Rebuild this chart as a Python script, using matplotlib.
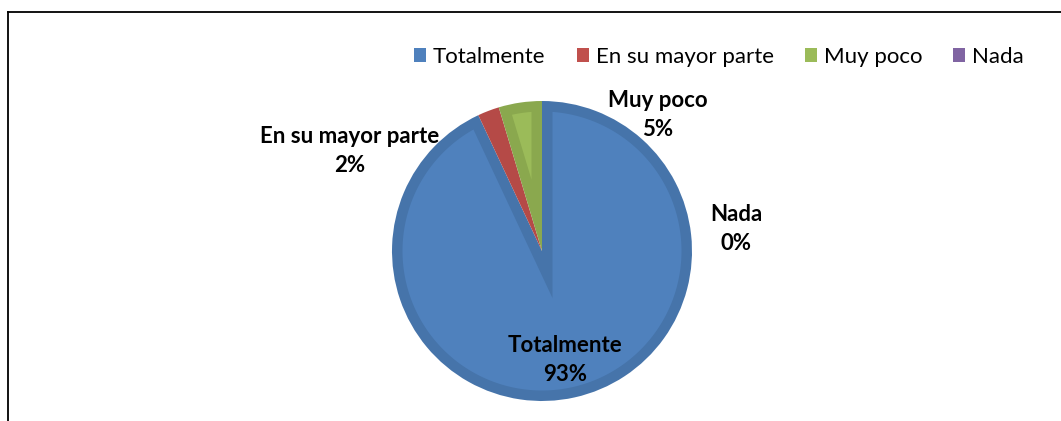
"""Pie chart: Totalmente / En su mayor parte / Muy poco / Nada."""

import matplotlib

matplotlib.use("Agg")
import matplotlib.pyplot as plt
import numpy as np
from matplotlib.lines import Line2D
from matplotlib.patches import Patch, Polygon

categories = ["Totalmente", "En su mayor parte", "Muy poco", "Nada"]
counts = [40, 1, 2, 0]

base_colors = ["#4F81BD", "#C0504D", "#9BBB59", "#8064A2"]
edge_colors = ["#4674AA", "#B54A47", "#8AA84E", "#735A92"]

# label anchor spots (data units, pie radius = 1), placed like Excel's best fit
label_pos = [(0.153, -0.727), (-1.28, 0.667), (0.773, 0.907), (1.293, 0.147)]

FONT = ["Lato", "DejaVu Sans"]
BEVEL = 0.07


def _inset(wedge, d):
    """Lighter inner face of a wedge, offset inward by d."""
    cx, cy = wedge.center
    r = wedge.r - d
    t1, t2 = np.radians(wedge.theta1), np.radians(wedge.theta2)
    half = (t2 - t1) / 2.0
    if half <= 0:
        return None
    dist = d / np.sin(half)
    if dist > 0.85 * r:
        return None
    mid = t1 + half
    vx, vy = cx + dist * np.cos(mid), cy + dist * np.sin(mid)
    s = np.sqrt(r**2 - d**2)
    a1 = t1 + np.arctan2(d, s)
    a2 = t2 - np.arctan2(d, s)
    arc = np.linspace(a1, a2, 300)
    pts = [(vx, vy)] + [(cx + r * np.cos(a), cy + r * np.sin(a)) for a in arc]
    return np.asarray(pts)


W, H = 1061, 421
fig = plt.figure(figsize=(W / 100, H / 100), dpi=100)
ax = fig.add_axes([392 / W, 20 / H, 300 / W, 300 / H])

wedges, _ = ax.pie(
    counts,
    colors=edge_colors,
    startangle=90,
    counterclock=False,
    radius=1.0,
    wedgeprops={"linewidth": 0},
)
for wedge, color in zip(wedges, base_colors):
    pts = _inset(wedge, BEVEL)
    if pts is not None:
        ax.add_patch(Polygon(pts, closed=True, facecolor=color, edgecolor="none"))

ax.set_xlim(-1, 1)
ax.set_ylim(-1, 1)
ax.set_aspect("equal")
ax.axis("off")

total = sum(counts)
for name, value, (x, y) in zip(categories, counts, label_pos):
    ax.text(
        x, y, f"{name}\n{round(100 * value / total):.0f}%",
        ha="center", va="center", fontsize=16, fontweight="bold",
        family=FONT, linespacing=1.45, clip_on=False,
    )

handles = [Patch(facecolor=c, edgecolor="none") for c in base_colors]
fig.legend(
    handles, categories,
    loc="center", bbox_to_anchor=(719 / W, 1 - 57 / H),
    ncol=4, frameon=False, prop={"family": FONT, "size": 16},
    handlelength=0.55, handleheight=0.55, handletextpad=0.3,
    columnspacing=1.4, borderaxespad=0,
)

# chart frame: only top and left edges show in the crop
fig.add_artist(Line2D([8 / W, 8 / W], [0, 1 - 12 / H], color="black", linewidth=1.3))
fig.add_artist(Line2D([8 / W, 1], [1 - 12 / H, 1 - 12 / H], color="black", linewidth=1.3))

fig.savefig("out.png", dpi=100)
plt.close(fig)
